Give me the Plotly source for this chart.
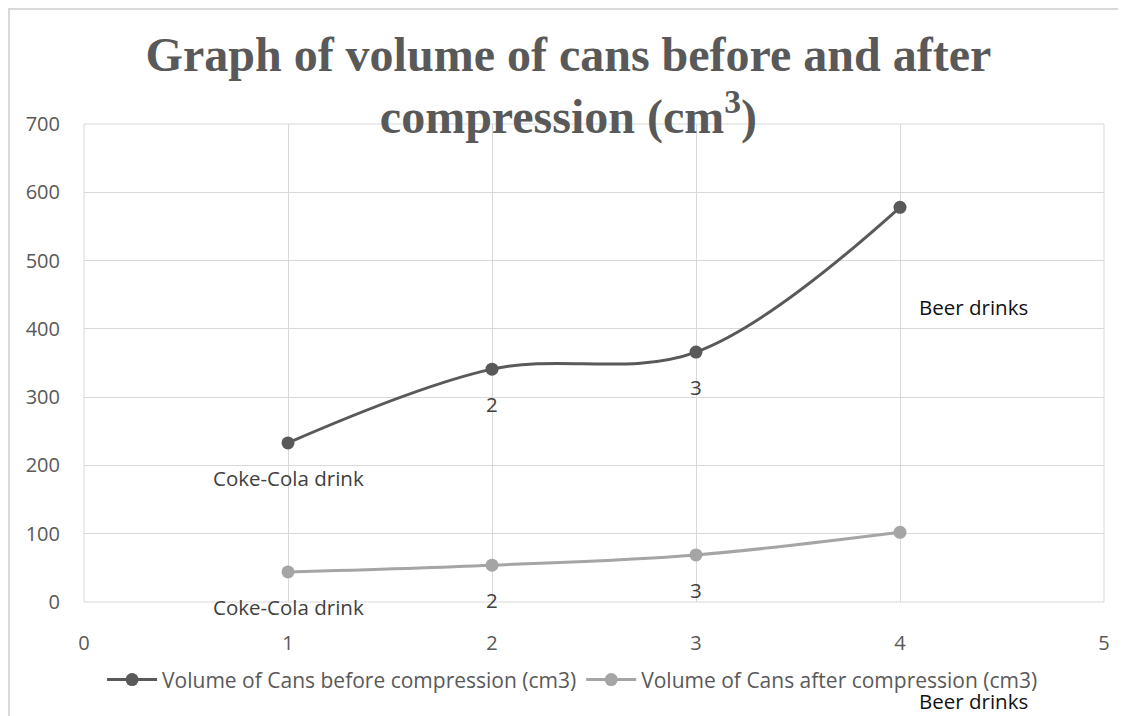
import plotly.graph_objects as go

# ---- data ----
x_vals = [1, 2, 3, 4]
before_vals = [233, 341, 366, 578]
after_vals = [44, 54, 69, 102]
labels_before = ["Coke-Cola drink", "2", "3", "Beer drinks"]
labels_after = ["Coke-Cola drink", "2", "3", "Beer drinks"]
name_before = "Volume of Cans before compression (cm3)"
name_after = "Volume of Cans after compression (cm3)"
title_text = "Graph of volume of cans before and after<br>compression (cm<sup>3</sup>)"
x_ticks = [0, 1, 2, 3, 4, 5]
y_ticks = [0, 100, 200, 300, 400, 500, 600, 700]

# ---- styling ----
C_BEFORE = "#595959"
C_AFTER = "#a5a5a5"
GRID = "#d9d9d9"
TICK_COL = "#595959"
LABEL_COL = "#404040"
SANS = "Open Sans"

fig = go.Figure()
fig.add_trace(go.Scatter(
    x=x_vals, y=before_vals, name=name_before, mode="lines+markers",
    line=dict(color=C_BEFORE, width=3, shape="spline", smoothing=1.0),
    marker=dict(color=C_BEFORE, size=13),
))
fig.add_trace(go.Scatter(
    x=x_vals, y=after_vals, name=name_after, mode="lines+markers",
    line=dict(color=C_AFTER, width=3, shape="spline", smoothing=1.0),
    marker=dict(color=C_AFTER, size=13),
))

annotations = []
def add_labels(ys, labels, far_dy):
    for xv, yv, lab in zip(x_vals, ys, labels):
        if lab == "Beer drinks":
            annotations.append(dict(x=xv, y=yv, xref="x", yref="y", text=lab,
                                    showarrow=False, xshift=73, yshift=-far_dy,
                                    font=dict(family=SANS, size=20.5, color="#111111")))
        else:
            annotations.append(dict(x=xv, y=yv, xref="x", yref="y", text=lab,
                                    showarrow=False, yshift=-35,
                                    font=dict(family=SANS, size=20.5, color=LABEL_COL)))

add_labels(before_vals, labels_before, 100)
add_labels(after_vals, labels_after, 169)

fig.update_layout(
    width=1118, height=708,
    margin=dict(l=76, r=22, t=116, b=114),
    paper_bgcolor="white", plot_bgcolor="white",
    title=dict(text=title_text, x=0.5013, xanchor="center", y=0.911, yanchor="middle",
               yref="container",
               font=dict(family="Liberation Serif", size=48, color="#595959", weight="bold")),
    xaxis=dict(range=[0, 5], tickvals=x_ticks, showgrid=True, gridcolor=GRID, gridwidth=1,
               zeroline=False, showline=False, ticks="", ticklabelstandoff=27,
               tickfont=dict(family=SANS, size=20, color=TICK_COL)),
    yaxis=dict(range=[0, 700], tickvals=y_ticks, showgrid=True, gridcolor=GRID, gridwidth=1,
               zeroline=False, showline=False, ticks="", ticklabelstandoff=23,
               tickfont=dict(family=SANS, size=20, color=TICK_COL)),
    legend=dict(orientation="h", x=0.479, xanchor="center", y=-0.163, yanchor="middle",
                font=dict(family=SANS, size=21, color=TICK_COL), itemwidth=50,
                bgcolor="rgba(0,0,0,0)"),
    annotations=annotations,
    shapes=[
        dict(type="line", xref="paper", yref="paper", x0=0, x1=1, y0=1, y1=1,
             line=dict(color=GRID, width=1), layer="below"),
        dict(type="line", xref="paper", yref="paper", x0=0, x1=0, y0=0, y1=1,
             line=dict(color=GRID, width=1), layer="below"),
        dict(type="line", xref="paper", yref="paper", x0=1, x1=1, y0=0, y1=1,
             line=dict(color=GRID, width=1), layer="below"),
        dict(type="line", xref="paper", yref="paper", x0=0, x1=1, y0=0, y1=0,
             line=dict(color=GRID, width=1), layer="below"),
        dict(type="rect", xref="paper", yref="paper", x0=-0.0735, x1=1.028, y0=-0.264, y1=1.2406,
             line=dict(color="#d9d9d9", width=2), fillcolor="rgba(0,0,0,0)", layer="below"),
    ],
    showlegend=True,
)

fig.write_html("out.html")
